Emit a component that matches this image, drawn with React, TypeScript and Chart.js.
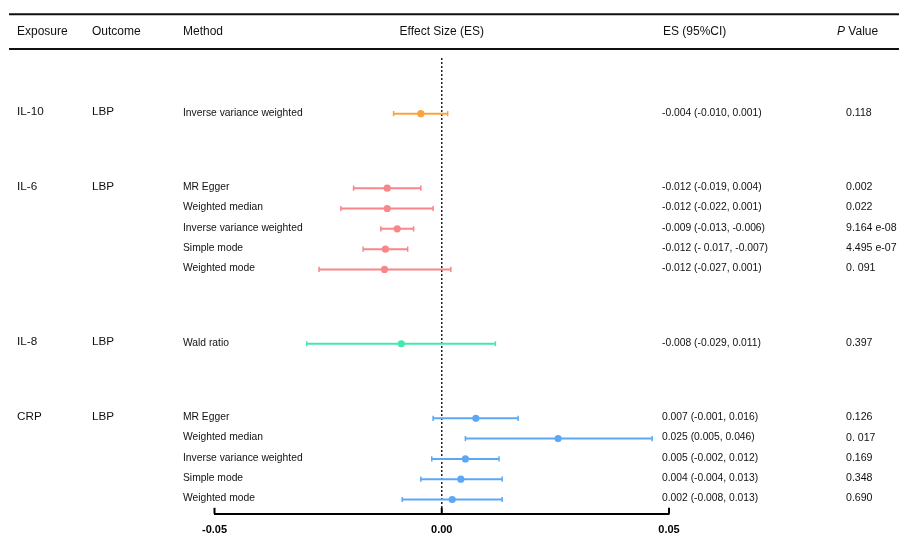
import React, { useEffect, useRef } from "react";
import { Chart, registerables } from "chart.js";

Chart.register(...registerables);

// ---------- data ----------
const exposures = ["IL-10", "IL-6", "IL-8", "CRP"];
const outcomes = ["LBP", "LBP", "LBP", "LBP"];
const exposureFirstRow = [0, 1, 6, 7];
const groupColors = ["#F9A43F", "#F8868A", "#43E9AC", "#5CA8F5"];

const rowGroup = [0, 1, 1, 1, 1, 1, 2, 3, 3, 3, 3, 3];
const rowPos = [0, 3.67, 4.67, 5.67, 6.67, 7.67, 11.33, 15, 16, 17, 18, 19];
const methods = [
  "Inverse variance weighted",
  "MR Egger",
  "Weighted median",
  "Inverse variance weighted",
  "Simple mode",
  "Weighted mode",
  "Wald ratio",
  "MR Egger",
  "Weighted median",
  "Inverse variance weighted",
  "Simple mode",
  "Weighted mode",
];
const estimates = [-0.0046, -0.012, -0.012, -0.0098, -0.0124, -0.0126, -0.0089, 0.0075, 0.0256, 0.0052, 0.0042, 0.0023];
const lower = [-0.0106, -0.0194, -0.0222, -0.0134, -0.0173, -0.027, -0.0297, -0.0019, 0.0052, -0.0022, -0.0046, -0.0087];
const upper = [0.0013, -0.0046, -0.0019, -0.0062, -0.0075, 0.002, 0.0118, 0.0168, 0.0463, 0.0126, 0.0133, 0.0133];
const esLabels = [
  "-0.004 (-0.010, 0.001)",
  "-0.012 (-0.019, 0.004)",
  "-0.012 (-0.022, 0.001)",
  "-0.009 (-0.013, -0.006)",
  "-0.012 (- 0.017, -0.007)",
  "-0.012 (-0.027, 0.001)",
  "-0.008 (-0.029, 0.011)",
  "0.007 (-0.001, 0.016)",
  "0.025 (0.005, 0.046)",
  "0.005 (-0.002, 0.012)",
  "0.004 (-0.004, 0.013)",
  "0.002 (-0.008, 0.013)",
];
const pLabels = ["0.118", "0.002", "0.022", "9.164 e-08", "4.495 e-07", "0. 091", "0.397", "0.126", "0. 017", "0.169", "0.348", "0.690"];
const xTicks = [-0.05, 0, 0.05];
const headerLabels = ["Exposure", "Outcome", "Method", "Effect Size (ES)", "ES (95%CI)", "Value"];
const pHeaderItalic = "P";

const FONT = "'Liberation Sans', Arial, sans-serif";

export default function App() {
  const ref = useRef<HTMLCanvasElement | null>(null);

  useEffect(() => {
    const canvas = ref.current;
    if (!canvas) return;

    const pointDataset = {
      type: "scatter" as const,
      label: "ES",
      order: 0,
      data: estimates.map((v, i) => ({ x: v, y: rowPos[i] })),
      backgroundColor: rowGroup.map((g) => groupColors[g]),
      borderColor: rowGroup.map((g) => groupColors[g]),
      pointRadius: 3.6,
      pointHoverRadius: 3.6,
      borderWidth: 0,
    };

    const ciDatasets = rowPos.map((y, i) => ({
      type: "line" as const,
      label: "CI " + i,
      order: 1,
      data: [
        { x: lower[i], y },
        { x: upper[i], y },
      ],
      borderColor: groupColors[rowGroup[i]],
      backgroundColor: groupColors[rowGroup[i]],
      borderWidth: 2,
      pointStyle: "line" as const,
      rotation: 90,
      pointRadius: 2.6,
      pointBorderWidth: 1.5,
      pointBorderColor: groupColors[rowGroup[i]],
      fill: false,
      tension: 0,
    }));

    const textPlugin = {
      id: "forestText",
      afterDraw(chart: any) {
        const ctx = chart.ctx as CanvasRenderingContext2D;
        const ys = chart.scales.y;
        const xs = chart.scales.x;
        ctx.save();
        // header rules
        ctx.strokeStyle = "#111";
        ctx.lineWidth = 2;
        ctx.beginPath();
        ctx.moveTo(9, 14.3);
        ctx.lineTo(899, 14.3);
        ctx.moveTo(9, 49);
        ctx.lineTo(899, 49);
        ctx.stroke();

        // header texts
        ctx.fillStyle = "#111";
        ctx.textBaseline = "middle";
        ctx.font = `12px ${FONT}`;
        ctx.textAlign = "left";
        ctx.fillText(headerLabels[0], 17, 31.5);
        ctx.fillText(headerLabels[1], 92, 31.5);
        ctx.fillText(headerLabels[2], 183, 31.5);
        ctx.textAlign = "center";
        ctx.fillText(headerLabels[3], xs.getPixelForValue(0), 31.5);
        ctx.textAlign = "left";
        ctx.fillText(headerLabels[4], 663, 31.5);
        ctx.font = `italic 12px ${FONT}`;
        ctx.fillText(pHeaderItalic, 837, 31.5);
        const pw = ctx.measureText(pHeaderItalic + " ").width;
        ctx.font = `12px ${FONT}`;
        ctx.fillText(headerLabels[5], 837 + pw, 31.5);

        // exposure/outcome labels
        ctx.font = `11.7px ${FONT}`;
        exposures.forEach((e, k) => {
          const yp = ys.getPixelForValue(rowPos[exposureFirstRow[k]]) - 1.5;
          ctx.fillText(e, 17, yp);
          ctx.fillText(outcomes[k], 92, yp);
        });

        // per-row texts
        rowPos.forEach((r, i) => {
          const yp = ys.getPixelForValue(r) - 1;
          ctx.font = `10.3px ${FONT}`;
          ctx.fillText(methods[i], 183, yp);
          ctx.fillText(esLabels[i], 662, yp);
          ctx.font = `10.6px ${FONT}`;
          ctx.fillText(pLabels[i], 846, yp);
        });

        // upward tick marks on x axis
        ctx.strokeStyle = "#000";
        ctx.lineWidth = 2;
        const base = chart.chartArea.bottom;
        xTicks.forEach((t) => {
          const xp = xs.getPixelForValue(t);
          ctx.beginPath();
          ctx.moveTo(xp, base);
          ctx.lineTo(xp, base - 6);
          ctx.stroke();
        });
        ctx.restore();
      },
    };

    const chart = new Chart(canvas, {
      type: "scatter",
      data: { datasets: [pointDataset, ...ciDatasets] as any },
      options: {
        responsive: false,
        animation: false,
        devicePixelRatio: 1,
        layout: { padding: { left: 214.5, right: 232, top: 58, bottom: -3 } },
        plugins: { legend: { display: false }, tooltip: { enabled: false } },
        scales: {
          x: {
            type: "linear",
            min: -0.05,
            max: 0.05,
            afterBuildTicks: (axis: any) => {
              axis.ticks = xTicks.map((v) => ({ value: v }));
            },
            grid: {
              drawTicks: false,
              drawOnChartArea: true,
              color: (c: any) => (c.tick && Math.abs(c.tick.value) < 1e-9 ? "#222" : "rgba(0,0,0,0)"),
              lineWidth: 1.5,
            },
            border: { display: true, color: "#000", width: 2, dash: [2, 2] },
            ticks: {
              padding: 10,
              color: "#000",
              font: { family: FONT, size: 11, weight: "bold" },
              callback: (v: any) => Number(v).toFixed(2),
              maxRotation: 0,
            },
          },
          y: {
            type: "linear",
            display: false,
            reverse: true,
            min: -2.742,
            max: 19.703,
          },
        },
      },
      plugins: [textPlugin],
    });
    return () => chart.destroy();
  }, []);

  return (
    <div style={{ position: "fixed", left: 0, top: 0, width: 901, height: 544, background: "#fff" }}>
      <canvas ref={ref} width={901} height={544} style={{ display: "block" }} />
    </div>
  );
}
